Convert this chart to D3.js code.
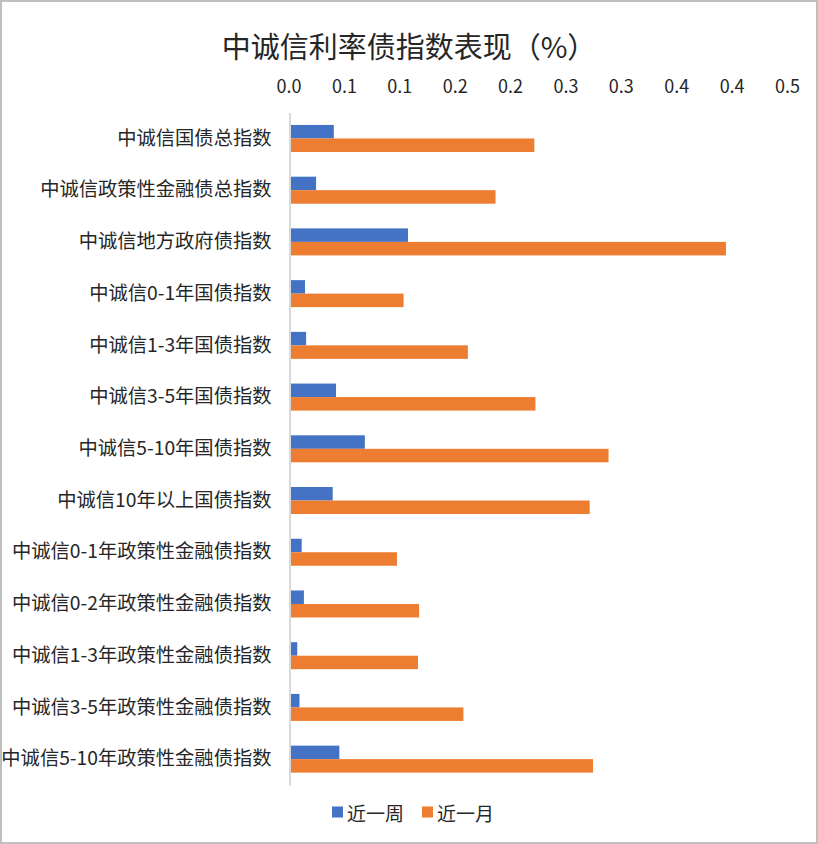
<!DOCTYPE html>
<html lang="zh">

<head>
    <meta charset="utf-8">
    <title>中诚信利率债指数表现</title>
    <script src="https://d3js.org/d3.v7.min.js"></script>
    <style>
        body { margin: 0; background: #fff; }
        text { font-family: "Noto Sans CJK SC", "Noto Sans", sans-serif; fill: #262626; }
    </style>
</head>

<body>
    <svg width="818" height="844"></svg>

    <script>
        const categories = [
            "中诚信国债总指数",
            "中诚信政策性金融债总指数",
            "中诚信地方政府债指数",
            "中诚信0-1年国债指数",
            "中诚信1-3年国债指数",
            "中诚信3-5年国债指数",
            "中诚信5-10年国债指数",
            "中诚信10年以上国债指数",
            "中诚信0-1年政策性金融债指数",
            "中诚信0-2年政策性金融债指数",
            "中诚信1-3年政策性金融债指数",
            "中诚信3-5年政策性金融债指数",
            "中诚信5-10年政策性金融债指数"
        ];
        const seriesNames = ["近一周", "近一月"];
        const week = [0.040, 0.024, 0.107, 0.014, 0.015, 0.042, 0.068, 0.039, 0.011, 0.013, 0.007, 0.009, 0.045];
        const month = [0.221, 0.186, 0.394, 0.103, 0.161, 0.222, 0.288, 0.271, 0.097, 0.117, 0.116, 0.157, 0.274];
        const tickValues = [0, 0.05, 0.1, 0.15, 0.2, 0.25, 0.3, 0.35, 0.4, 0.45];
        const tickLabels = ["0.0", "0.1", "0.1", "0.2", "0.2", "0.3", "0.3", "0.4", "0.4", "0.5"];
        const colors = ["#4472C4", "#ED7D31"];

        const rows = categories.map((c, i) => ({ name: c, values: [week[i], month[i]] }));

        const svg = d3.select("svg");
        const width = +svg.attr("width");
        const height = +svg.attr("height");

        // chart border
        svg.append("rect")
            .attr("x", 1).attr("y", 1)
            .attr("width", width - 2).attr("height", height - 2)
            .attr("fill", "#fff")
            .attr("stroke", "#bfbfbf")
            .attr("stroke-width", 2);

        const plotLeft = 289.5, plotRight = 788, plotTop = 112.6, plotBottom = 785;

        const x = d3.scaleLinear().domain([0, 0.45]).range([plotLeft, plotRight]);

        const y = d3.scaleBand()
            .domain(categories)
            .range([plotTop, plotBottom])
            .paddingInner(0.478)
            .paddingOuter(0.239);

        const ySub = d3.scaleBand()
            .domain(seriesNames)
            .range([0, y.bandwidth()]);

        // title
        svg.append("text")
            .attr("x", 409)
            .attr("y", 45)
            .attr("text-anchor", "middle")
            .attr("dominant-baseline", "central")
            .style("font-size", "29px")
            .text("中诚信利率债指数表现（%）");

        // top value axis labels
        const xAxis = d3.axisTop(x)
            .tickValues(tickValues)
            .tickFormat((d, i) => tickLabels[i])
            .tickSize(0)
            .tickPadding(0);

        const gx = svg.append("g")
            .attr("transform", "translate(-1,93)")
            .call(xAxis);
        gx.select(".domain").remove();
        gx.selectAll("text")
            .attr("fill", "#262626")
            .attr("dy", 0)
            .style("font-size", "18px")
            .style("font-family", "'Noto Sans CJK SC', 'Noto Sans', sans-serif");

        // bars
        const groups = svg.append("g")
            .selectAll("g")
            .data(rows)
            .join("g")
            .attr("transform", d => `translate(0,${y(d.name)})`);

        groups.selectAll("rect")
            .data(d => d.values.map((v, i) => ({ key: seriesNames[i], value: v, i })))
            .join("rect")
            .attr("x", x(0))
            .attr("y", d => ySub(d.key))
            .attr("width", d => x(d.value) - x(0))
            .attr("height", ySub.bandwidth())
            .attr("fill", d => colors[d.i]);

        // category axis
        const yAxis = d3.axisLeft(y).tickSize(0).tickPadding(18);
        const gy = svg.append("g")
            .attr("transform", `translate(${plotLeft},0)`)
            .call(yAxis);
        gy.select(".domain")
            .attr("stroke", "#d9d9d9")
            .attr("stroke-width", 2);
        gy.selectAll("text")
            .attr("fill", "#262626")
            .style("font-size", "19.3px")
            .style("font-family", "'Noto Sans CJK SC', 'Noto Sans', sans-serif");

        // legend
        const legendX = [332, 422];
        const legend = svg.append("g")
            .selectAll("g")
            .data(seriesNames)
            .join("g")
            .attr("transform", (d, i) => `translate(${legendX[i]},812)`);

        legend.append("rect")
            .attr("x", 0).attr("y", -5.5)
            .attr("width", 11).attr("height", 11)
            .attr("fill", (d, i) => colors[i]);

        legend.append("text")
            .attr("x", 15)
            .attr("dominant-baseline", "central")
            .style("font-size", "19px")
            .text(d => d);
    </script>
</body>

</html>
